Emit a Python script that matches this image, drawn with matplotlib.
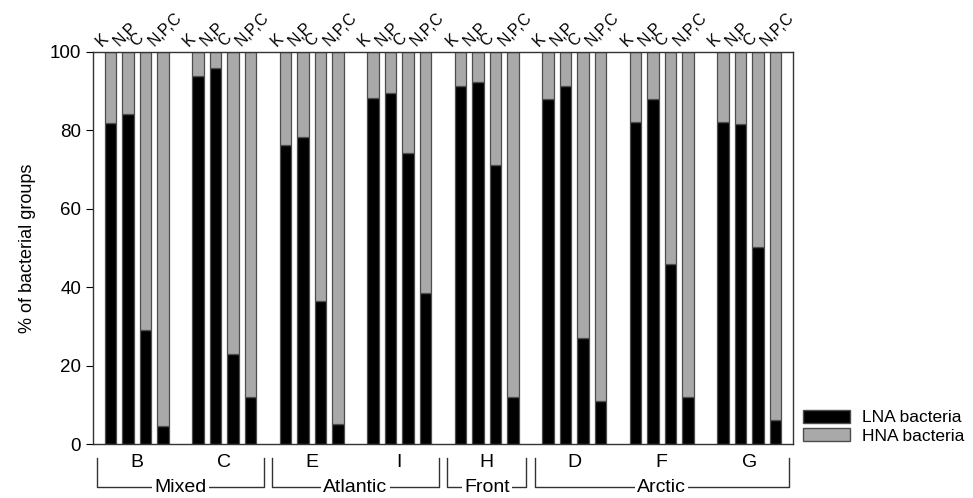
import numpy as np
import matplotlib
matplotlib.use("Agg")
import matplotlib.pyplot as plt
import matplotlib.transforms as mtransforms
from matplotlib.patches import Patch

plt.rcParams["font.family"] = ["Liberation Sans", "DejaVu Sans"]

# === Data ===
stations = ["B", "C", "E", "I", "H", "D", "F", "G"]
treatments = ["K", "N,P", "C", "N,P,C"]
# LNA bacteria share (%) per station, one value per treatment
lna = {
    "B": [81.8, 84.1, 29.0, 4.5],
    "C": [94.0, 96.0, 23.0, 12.0],
    "E": [76.4, 78.4, 36.5, 5.0],
    "I": [88.3, 89.6, 74.2, 38.5],
    "H": [91.2, 92.3, 71.1, 12.0],
    "D": [87.9, 91.2, 27.0, 11.0],
    "F": [82.2, 87.9, 46.0, 12.0],
    "G": [82.2, 81.7, 50.3, 6.2],
}
regions = ["Mixed", "Atlantic", "Front", "Arctic"]
region_stations = [["B", "C"], ["E", "I"], ["H"], ["D", "F", "G"]]

GROUP_STEP = 5
BAR_W = 0.65
GREY = "#a9a9a9"
EDGE = "#4d4d4d"

fig = plt.figure(figsize=(9.73, 4.98), dpi=100)
ax = fig.add_axes([0.0956, 0.1084, 0.7194, 0.7872])

pos = {}
for g, st in enumerate(stations):
    x = g * GROUP_STEP + np.arange(len(treatments))
    pos[st] = x
    low = np.array(lna[st])
    ax.bar(x, low, width=BAR_W, color="black", edgecolor=EDGE, linewidth=0.9)
    ax.bar(x, 100 - low, bottom=low, width=BAR_W, color=GREY,
           edgecolor=EDGE, linewidth=0.9)
    # rotated treatment labels above each bar
    for xi, lab in zip(x, treatments):
        ax.text(xi - 0.4, 100.8, lab, rotation=45, ha="left", va="bottom",
                fontsize=11.5, rotation_mode="anchor", clip_on=False)
    # station letter below the axis
    ax.text(x.mean(), -2.5, st, ha="center", va="top", fontsize=14)

ax.set_xlim(-1, (len(stations) - 1) * GROUP_STEP + len(treatments))
ax.set_ylim(0, 100)
ax.set_yticks(np.arange(0, 101, 20))
ax.tick_params(axis="y", labelsize=13.5, direction="out", length=5)
ax.set_xticks([])
ax.set_ylabel("% of bacterial groups", fontsize=13, labelpad=10)
for sp in ax.spines.values():
    sp.set_color("#333333")
    sp.set_linewidth(1.0)

# region brackets under the station letters
trans = mtransforms.blended_transform_factory(ax.transData, ax.transAxes)
y_top, y_bot = -0.035, -0.11
for name, sts in zip(regions, region_stations):
    x0 = pos[sts[0]][0] - 0.75
    x1 = pos[sts[-1]][-1] + 0.75
    ax.plot([x0, x0, x1, x1], [y_top, y_bot, y_bot, y_top], color="#333333",
            lw=1.0, transform=trans, clip_on=False)
    ax.text((x0 + x1) / 2, y_bot, name, ha="center", va="center", fontsize=14,
            transform=trans, clip_on=False,
            bbox=dict(facecolor="white", edgecolor="none", pad=1.5))

handles = [Patch(facecolor="black", edgecolor=EDGE, label="LNA bacteria"),
           Patch(facecolor=GREY, edgecolor=EDGE, label="HNA bacteria")]
fig.legend(handles=handles, loc="lower left", bbox_to_anchor=(0.813, 0.085),
           frameon=False, fontsize=12.5, handlelength=2.7, handleheight=0.8,
           labelspacing=0.15, handletextpad=0.7, borderpad=0.2)

fig.savefig("out.png", dpi=100)
